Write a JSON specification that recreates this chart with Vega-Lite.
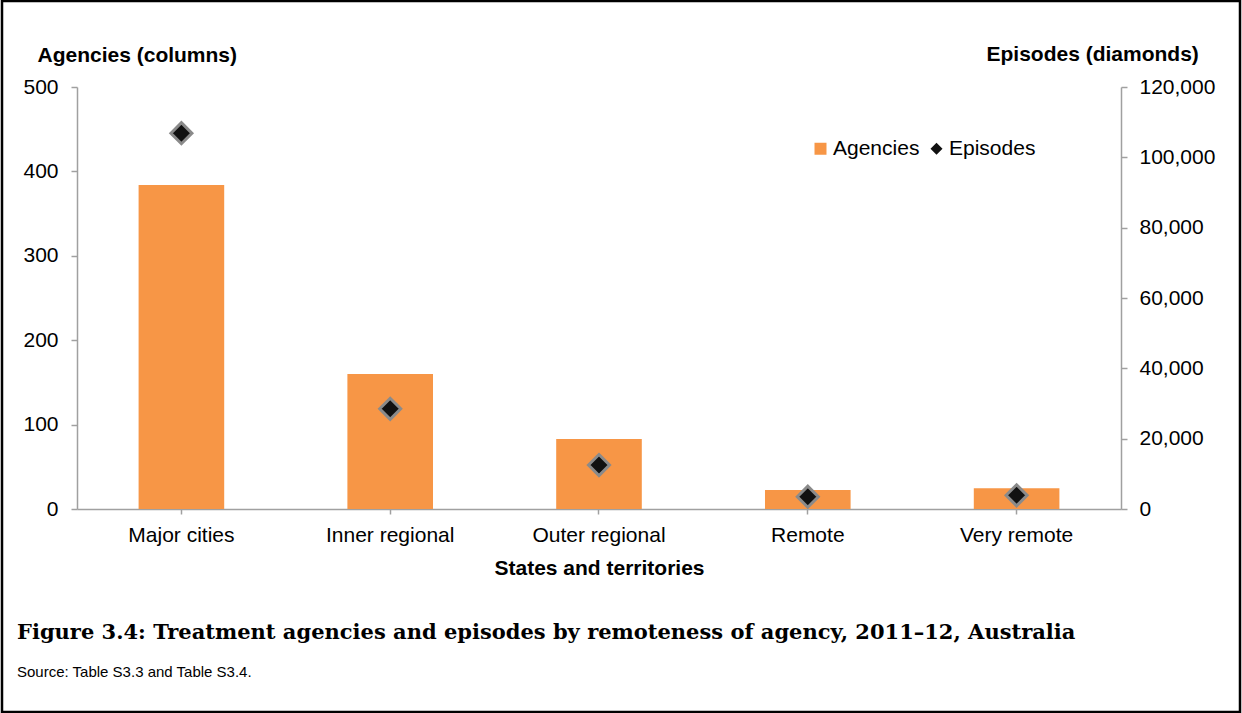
{
  "$schema": "https://vega.github.io/schema/vega-lite/v6.json",
  "width": 1238,
  "height": 711,
  "autosize": {"type": "none"},
  "padding": {"left": 2, "top": 1, "right": 2, "bottom": 1},
  "background": "white",
  "config": {
    "view": {"stroke": "black", "strokeWidth": 2.5},
    "font": "Liberation Sans",
    "axis": {
      "grid": false,
      "domainColor": "#a0a0a0",
      "domainWidth": 1.5,
      "tickColor": "#a0a0a0",
      "tickWidth": 1.5,
      "labelColor": "black",
      "labelFont": "Liberation Sans",
      "labelFontSize": 21,
      "titleColor": "black",
      "titleFont": "Liberation Sans",
      "titleFontSize": 21,
      "titleFontWeight": "bold"
    }
  },
  "title": {
    "text": "Figure 3.4: Treatment agencies and episodes by remoteness of agency, 2011–12, Australia",
    "subtitle": "Source: Table S3.3 and Table S3.4.",
    "orient": "bottom",
    "anchor": "start",
    "frame": "group",
    "offset": -90,
    "dx": 15,
    "font": "DejaVu Serif",
    "fontSize": 21,
    "fontWeight": "bold",
    "color": "black",
    "subtitleFont": "Liberation Sans",
    "subtitleFontSize": 15,
    "subtitleColor": "black",
    "subtitlePadding": 22
  },
  "data": {
    "values": [
      {"region": "Major cities", "agencies": 384, "episodes": 106850},
      {"region": "Inner regional", "agencies": 160, "episodes": 28500},
      {"region": "Outer regional", "agencies": 83, "episodes": 12500},
      {"region": "Remote", "agencies": 22.5, "episodes": 3500},
      {"region": "Very remote", "agencies": 24.5, "episodes": 3900}
    ]
  },
  "encoding": {
    "x": {
      "field": "region",
      "type": "nominal",
      "sort": null,
      "scale": {"range": [75, 1119], "paddingInner": 0.59, "paddingOuter": 0.295},
      "axis": {
        "orient": "bottom",
        "offset": -203,
        "labelAngle": 0,
        "tickSize": 5,
        "labelPadding": 10,
        "title": "States and territories",
        "titleY": 65,
        "titleBaseline": "alphabetic"
      }
    }
  },
  "layer": [
    {
      "mark": {"type": "bar", "color": "#F79646"},
      "encoding": {
        "y": {
          "field": "agencies",
          "type": "quantitative",
          "scale": {"domain": [0, 500], "range": [508, 86], "nice": false, "zero": true},
          "axis": {
            "orient": "left",
            "offset": -75,
            "values": [0, 100, 200, 300, 400, 500],
            "tickSize": 6,
            "labelPadding": 13,
            "title": "Agencies (columns)",
            "titleAngle": 0,
            "titleX": -40,
            "titleY": 60,
            "titleAlign": "left",
            "titleBaseline": "alphabetic"
          }
        },
        "color": {
          "datum": "Agencies",
          "scale": {"domain": ["Agencies", "Episodes"], "range": ["#F79646", "#111111"]},
          "legend": {
            "orient": "none",
            "legendX": 808,
            "legendY": 137,
            "direction": "horizontal",
            "title": null,
            "padding": 0,
            "labelFontSize": 21,
            "labelColor": "black",
            "labelOffset": 2,
            "columnPadding": 6,
            "symbolSize": 144,
            "symbolStrokeWidth": 0
          }
        }
      }
    },
    {
      "mark": {"type": "point", "filled": true, "size": 441, "stroke": "#8a8a8a", "strokeWidth": 3, "opacity": 1},
      "encoding": {
        "y": {
          "field": "episodes",
          "type": "quantitative",
          "scale": {"domain": [0, 120000], "range": [508, 86], "nice": false, "zero": true},
          "axis": {
            "orient": "right",
            "offset": -119,
            "values": [0, 20000, 40000, 60000, 80000, 100000, 120000],
            "format": ",.0f",
            "tickSize": 6,
            "labelPadding": 12,
            "title": "Episodes (diamonds)",
            "titleAngle": 0,
            "titleX": -135,
            "titleY": 59,
            "titleAlign": "left",
            "titleBaseline": "alphabetic"
          }
        },
        "color": {"datum": "Episodes"},
        "shape": {
          "datum": "Episodes",
          "scale": {"domain": ["Agencies", "Episodes"], "range": ["square", "diamond"]}
        }
      }
    }
  ],
  "resolve": {"scale": {"y": "independent"}}
}
